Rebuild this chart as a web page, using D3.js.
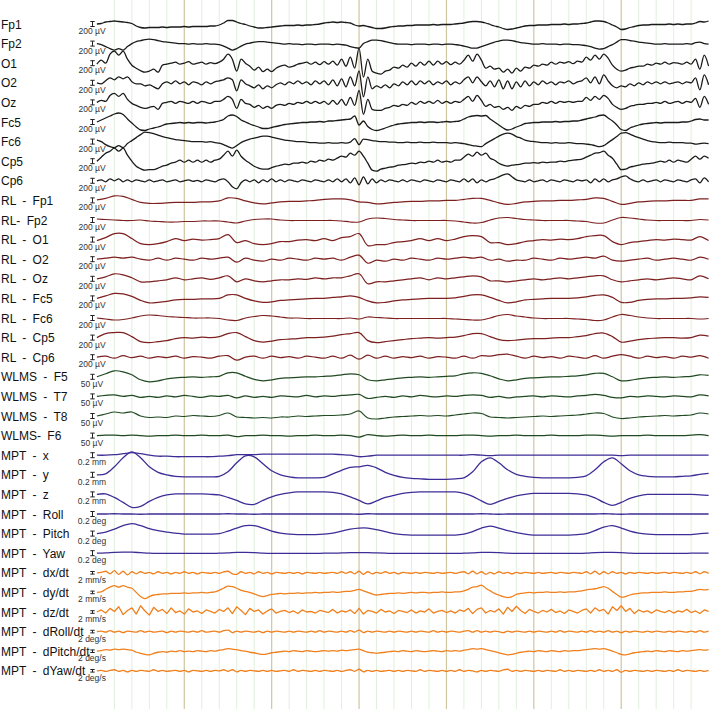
<!DOCTYPE html>
<html><head><meta charset="utf-8">
<script src="https://cdn.jsdelivr.net/npm/d3@7"></script>
<style>body{margin:0;background:#fff}svg{display:block}</style>
</head><body>
<svg id="chart" width="709" height="709"></svg>
<script>
// ---------- channel names & scale labels ----------
const channelNames = ["Fp1","Fp2","O1","O2","Oz","Fc5","Fc6","Cp5","Cp6",
  "RL - Fp1","RL- Fp2","RL - O1","RL - O2","RL - Oz","RL - Fc5","RL - Fc6","RL - Cp5","RL - Cp6",
  "WLMS - F5","WLMS - T7","WLMS - T8","WLMS- F6",
  "MPT - x","MPT - y","MPT - z","MPT - Roll","MPT - Pitch","MPT - Yaw",
  "MPT - dx/dt","MPT - dy/dt","MPT - dz/dt","MPT - dRoll/dt","MPT - dPitch/dt","MPT - dYaw/dt"];
const channelGroups = ["eeg","eeg","eeg","eeg","eeg","eeg","eeg","eeg","eeg",
  "rl","rl","rl","rl","rl","rl","rl","rl","rl",
  "wlms","wlms","wlms","wlms",
  "pos","pos","pos","pos","pos","pos",
  "vel","vel","spiky","vel","vel","vel"];
const scaleBarValues = [200,200,200,200,200,200,200,200,200,
  200,200,200,200,200,200,200,200,200,
  50,50,50,50,
  0.2,0.2,0.2,0.2,0.2,0.2,
  2,2,2,2,2,2];
const scaleBarLabels = ["200 µV","200 µV","200 µV","200 µV","200 µV","200 µV","200 µV","200 µV","200 µV",
  "200 µV","200 µV","200 µV","200 µV","200 µV","200 µV","200 µV","200 µV","200 µV",
  "50 µV","50 µV","50 µV","50 µV",
  "0.2 mm","0.2 mm","0.2 mm","0.2 deg","0.2 deg","0.2 deg",
  "2 mm/s","2 mm/s","2 mm/s","2 deg/s","2 deg/s","2 deg/s"];
const timeTicks = d3.range(1, 35); // grid lines (one per time unit), every 5th is major

// ---------- EEG (µV) ----------
const fp1 = [0,20,80,100,120,100,80,60,20,-80,-140,-160,-140,-140,
-140,-120,-140,-120,-120,-120,-100,-120,-100,-100,-100,
-100,-80,-80,-40,40,140,140,80,20,-20,-80,-120,-160,-160,-140,-120,-100,-80,-60,
-60,-60,-40,-60,-40,
-40,-20,0,40,60,80,60,80,60,40,-40,-80,-60,-100,-140,-180,-180,-160,-120,-100,-80,
-80,-60,-60,-40,-40,-40,-40,-20,-40,-20,-20,
-20,0,20,40,80,100,100,80,40,-20,-80,-120,-180,-220,-200,-160,-120,-80,-60,
-60,-40,-40,-40,-20,-20,-20,0,-20,0,0,
20,40,80,120,120,100,40,-40,-120,-220,-200,-140,-100,-60,
-40,-40,-20,-20,-20,-20,0,-20,0,-20,0,
0,40,100,80,120];
const fp2 = [0,-40,-120,-200,-260,-200,-260,-120,0,80,120,160,180,160,120,80,60,40,20,
0,0,-20,0,-20,-20,0,-20,-20,-40,
-100,-180,-260,-200,-100,-20,20,60,80,80,60,40,20,0,
-20,0,-20,-20,-40,-20,-20,-40,-20,-20,-20,-40,-20,
-40,-60,-120,-160,-180,0,80,140,140,120,80,40,0,
-20,-20,-20,-40,-20,-20,-20,-40,-20,-20,-40,-20,-20,-40,
-60,-100,-140,-180,-180,-120,-60,0,60,100,140,140,120,80,40,20,0,
-20,-20,0,-20,-20,-20,-40,-20,-20,-40,-40,-60,
-80,-120,-180,-220,-200,-120,-40,60,160,160,120,100,60,40,20,0,
-20,-20,0,-20,-20,-20,-20,0,-20,
40,60,0,-20];
const o1 = [-40,120,0,360,480,320,480,160,-80,-200,-300,-360,-320,-240,-360,-80,-40,0,
40,-40,0,60,-40,0,40,-40,20,-20,40,
160,360,160,-320,160,0,-120,-280,-160,-340,-240,-340,-200,-120,-80,-160,-120,-40,0,40,-40,40,-60,60,-40,80,-80,160,-120,240,-200,
600,-560,160,-320,-400,-440,-320,-280,-160,-200,-80,-160,0,-120,40,-80,80,-80,80,-40,60,-60,40,-40,
120,320,80,360,120,-200,-120,-240,-200,-360,-240,-400,-200,-320,-160,-200,-80,-120,-40,-80,40,-40,40,0,60,-20,80,40,
240,120,320,160,360,200,-80,-240,-320,-280,-200,-160,-120,-120,-40,-80,
0,-40,40,-40,20,0,-40,40,-40,160,-240,320,-120];
const o2 = [0,-40,80,200,120,240,160,240,40,-40,-40,-120,-80,-160,-240,-40,40,
-40,80,-40,40,-80,40,0,-80,40,-40,40,80,
120,200,120,-320,120,-40,-120,-200,-80,-240,-120,-200,-80,0,-80,40,-40,80,-40,40,-80,80,-40,80,-80,120,-120,160,-160,240,-120,
480,-560,240,-240,-120,-200,-80,-200,-40,-120,40,-80,80,-80,80,-40,80,-80,40,-40,80,-80,40,-40,
120,240,0,240,40,-120,80,-160,120,-240,80,-240,40,-160,80,-120,40,-80,80,-40,40,-80,40,0,80,-40,40,80,
200,0,240,-40,320,80,-120,-200,-120,-160,-40,-120,0,-80,40,-40,40,-40,40,-40,0,40,-40,40,0,200,-280,320,-80];
const oz = [0,80,40,280,360,240,360,120,-40,-120,-200,-240,-200,-160,-280,-40,0,40,
-40,40,0,-40,40,-40,40,0,-40,40,40,
120,240,120,-240,120,-40,-80,-200,-120,-240,-160,-240,-120,-80,-120,-40,-80,0,-40,40,-40,40,-40,40,-80,80,-80,120,-120,200,-120,
480,-480,120,-280,-320,-320,-240,-200,-120,-160,-80,-120,0,-80,40,-40,40,-40,80,-40,40,-40,40,0,
120,240,40,280,80,-160,-80,-200,-160,-280,-200,-320,-160,-240,-120,-160,-80,-80,0,-40,40,-40,40,0,40,0,40,40,
200,80,240,120,280,160,-80,-200,-280,-240,-160,-120,-80,-80,-40,-40,0,-40,40,-40,0,40,-40,40,0,160,-200,240,-80];
const fc5 = [0,80,160,240,320,360,300,120,-40,-200,-320,-340,-280,-240,-200,-140,-80,-60,
-40,-20,-40,-20,-40,-20,-20,-40,-20,0,40,
100,240,280,220,80,0,-80,-140,-200,-260,-260,-220,-180,-140,-100,-80,-60,-40,-20,
-20,0,0,20,0,40,40,60,
80,100,120,240,-120,40,-180,-300,-340,-300,-240,-180,-120,-80,-60,
-40,-20,-20,0,-20,0,0,-20,0,20,0,20,
40,120,200,240,260,240,260,120,0,-120,-240,-320,-280,-200,-140,-60,-40,
-20,-20,0,0,0,20,0,20,20,40,40,80,
120,160,200,260,280,160,40,-120,-300,-340,-240,-180,-120,-80,-60,
-40,-20,-40,-20,-20,-20,-20,0,0,
40,100,120,80,80];
const fc6 = [60,0,-120,-200,-240,-160,-240,-80,40,160,280,380,360,320,260,200,160,120,80,60,40,20,0,0,0,-20,0,-40,-60,
-120,-200,-260,-160,-40,40,100,140,180,220,
220,180,140,100,60,40,20,0,0,-20,
-40,-40,-60,-60,-40,-60,-60,-40,-60,-20,
120,-120,100,80,40,20,0,0,-20,-20,
-40,-40,-20,-40,-40,-20,-40,-40,-20,-40,
-40,-40,-60,-40,-60,-80,-120,-160,-180,-200,
-80,20,120,220,300,340,300,200,140,60,
20,0,-20,-40,-40,-60,-40,-60,-60,-40,
-60,-80,-80,-100,-120,-160,-200,-160,-40,80,
200,340,360,300,220,160,100,40,0,-20,
-40,-40,-20,-40,-40,-40,-60,-60,-100,-80,
-60,-80];
const cp5 = [0,160,320,400,520,400,520,240,0,-200,-300,-360,-340,-340,-280,-200,-160,-80,-40,40,-40,40,-40,40,-40,40,-40,40,80,
240,400,200,440,200,40,-80,-200,-280,-320,
-320,-260,-200,-160,-120,-140,-80,-80,-40,-80,
0,-40,40,0,80,40,120,200,160,320,
240,400,200,-80,-360,-400,-320,-280,-240,-220,
-160,-140,-120,-80,-100,-40,-60,0,-40,40,
-40,0,-40,40,40,160,280,200,360,240,
320,120,40,-80,-160,-200,-160,-140,-120,-80,
-80,-60,-80,-40,-60,-40,-40,0,-20,20,
40,60,80,160,240,320,340,400,240,120,
-120,-340,-320,-240,-200,-160,-120,-100,-80,-40,
0,-40,40,-40,40,0,-40,80,200,80,
200,120];
const cp6 = [0,40,-40,80,0,80,-40,40,-40,40,0,-40,40,-40,0,40,-40,0,40,-40,0,40,-20,20,-40,40,0,-40,40,
80,-40,-240,-320,-80,40,-40,40,-80,40,
-40,80,-40,40,-40,40,0,-40,40,0,
-40,40,0,-40,40,-40,80,-40,80,-80,
120,-160,160,-120,80,-80,40,-40,40,0,
-40,40,-40,40,0,-40,40,0,-40,40,
0,-40,40,0,-40,80,-40,80,-80,40,
-40,40,80,160,240,280,160,40,0,-40,
40,-40,0,40,-40,40,0,-40,40,0,
-40,40,0,40,-80,80,-40,80,-40,40,
80,160,200,80,0,-40,40,-40,0,40,
-40,40,0,-40,40,0,-40,40,80,-80,
120,-40];

// ---------- RL referenced EEG (µV) ----------
const rlFp1 = [20,80,180,160,40,-80,-120,-120,-100,-80,-80,-80,-60,-60,-20,100,80,-20,-100,-140,-100,-60,-40,-40,-20,0,40,60,60,20,-60,-80,-140,-120,-80,-60,-40,-40,-20,-20,0,0,40,80,80,0,-100,-160,-120,-60,-40,-20,-20,0,0,20,40,100,80,-40,-160,-120,-60,-40,-20,-20,0,0,0,60,60];
const rlFp2 = [40,20,0,-20,-20,0,-40,-60,-80,-80,-60,-60,-40,-40,-40,-80,-120,-40,20,40,40,0,-20,-20,-20,-20,-20,-20,-40,-80,-80,40,80,60,20,0,-20,-20,-20,-20,-20,-40,-80,-120,-100,0,80,100,60,20,0,-20,-20,-20,-20,-40,-60,-120,-120,0,100,80,40,0,-20,-20,-20,-20,-20,20,0];
const rlO1 = [-40,80,240,240,40,-160,-200,-160,-80,40,-40,20,-20,0,40,200,-120,-40,-160,-200,-160,-80,-80,-20,0,-40,40,-40,80,120,240,-240,-200,-200,-120,-80,-40,40,-40,40,-40,20,120,160,120,-120,-120,-200,-160,-80,-40,0,-20,20,0,40,120,160,160,-80,-200,-120,-80,-40,0,-20,20,0,-20,120,-40];
const rlO2 = [0,40,80,40,80,0,-40,40,-40,40,0,-40,40,0,40,80,-120,40,-40,-80,0,-40,40,0,-40,40,0,40,-40,80,160,-160,-40,-80,0,-40,40,0,-40,40,0,40,80,40,80,-40,0,-80,-40,-40,40,0,-40,40,0,40,80,40,120,-40,-80,-40,0,40,-40,0,40,0,-40,80,0];
const rlOz = [0,80,200,160,40,-120,-120,-80,-40,40,-40,0,40,-20,40,120,-120,0,-80,-120,-80,-40,-40,0,-20,40,0,40,40,120,200,-200,-120,-120,-80,-40,0,40,-40,40,0,40,80,120,80,-80,-80,-120,-80,-40,0,-40,0,40,0,40,80,120,120,-40,-120,-80,-40,0,-40,0,40,0,-40,120,0];
const rlFc5 = [0,100,200,180,80,-80,-180,-160,-120,-60,-40,-40,-20,-20,0,140,140,0,-100,-160,-140,-80,-60,-40,-20,0,0,40,60,100,40,-100,-180,-160,-100,-60,-40,-20,0,0,0,20,80,140,140,40,-80,-180,-140,-60,-40,-20,0,0,0,20,60,120,140,40,-160,-160,-80,-40,-20,-20,0,0,20,60,40];
const rlFc6 = [0,-40,-80,-60,0,80,120,100,60,40,20,0,0,0,-20,-80,-100,0,60,100,80,40,0,0,-20,-20,-20,-20,-20,0,-40,40,20,0,-20,-20,-20,-20,-20,-20,-20,-40,-60,-80,-80,0,100,140,80,40,0,-20,-20,-20,-20,-40,-60,-100,-80,40,140,100,40,0,-20,-20,-20,-20,-20,-40,-20];
const rlCp5 = [0,160,200,200,40,-160,-200,-160,-120,-40,0,-20,20,0,40,160,200,40,-120,-180,-140,-80,-60,-40,0,0,20,60,120,160,200,-120,-200,-160,-120,-80,-40,-20,0,-20,0,20,80,160,160,40,-80,-120,-100,-60,-40,-40,-20,0,0,40,80,160,180,40,-180,-140,-80,-40,-20,0,0,-20,0,100,60];
const rlCp6 = [0,40,-40,60,-20,40,-40,20,-20,40,-40,20,0,-40,40,60,-120,0,40,-40,40,-20,20,-40,40,0,-40,40,-40,80,-80,80,-40,40,-40,20,-20,40,-40,20,0,-40,40,-40,60,40,100,120,40,-40,40,-20,20,-40,40,0,-40,60,-40,40,100,40,-40,40,-20,20,-40,40,0,60,-40];

// ---------- WLMS (µV) ----------
const wlmsF5 = [0,30,60,50,20,-30,-50,-40,-20,-10,-5,0,-5,0,5,40,40,5,-25,-40,-30,-15,-10,-5,0,0,5,10,20,30,20,-30,-40,-30,-20,-10,-5,0,-5,0,5,10,30,40,35,10,-20,-40,-30,-15,-10,-5,0,0,5,10,20,35,35,0,-40,-35,-20,-10,-5,0,-5,0,5,20,15];
const wlmsT7 = [0,10,15,0,10,-10,0,-10,5,-5,10,0,-10,5,0,10,-15,5,-10,0,-10,5,0,-5,10,-5,5,0,10,15,20,-20,-10,0,-10,5,-5,10,0,-5,5,0,10,15,10,-10,0,-15,-5,0,5,-5,5,0,-5,5,10,20,10,-10,-15,0,-5,5,0,-5,5,0,-5,15,5];
const wlmsT8 = [0,20,40,30,40,0,-15,-10,-15,0,-5,5,0,-5,5,30,-10,-15,-20,-15,-20,-10,-10,0,-5,0,5,5,10,20,50,-20,-30,-20,-10,-5,0,5,0,5,0,10,20,30,25,-10,-15,-20,-15,-10,-5,0,-5,0,5,10,20,30,25,-10,-25,-20,-10,-5,0,5,0,5,10,30,20];
const wlmsF6 = [0,5,5,0,5,0,-5,0,0,5,0,0,5,0,0,5,-10,0,0,5,0,0,-5,0,0,5,0,0,5,0,-15,10,0,-5,0,5,0,0,5,0,0,0,5,5,0,-5,0,0,5,0,0,0,5,0,0,0,5,5,0,-5,0,0,0,5,0,0,0,0,5,10,0];

// ---------- MPT position (mm / deg) ----------
const mptX = [0,0,0.02,0.06,0.1,0.06,0,-0.04,-0.04,-0.06,-0.06,-0.06,-0.06,-0.06,-0.04,-0.02,0.02,0.02,0.02,0.04,0.04,0.04,0.04,0.04,0.04,0.04,0.04,0.04,0.02,0,-0.06,-0.04,0,0,0,0,0,0,0,0,0,0,0,0.02,0,-0.02,0,0,0,0,0,0,0,0,0,0,0,0,0,0,-0.02,0,0,0,0,0,0,0,0,0,0];
const mptY = [0,0.04,0.32,0.68,0.92,0.68,0.32,0.1,0,-0.06,-0.08,-0.08,-0.08,-0.08,-0.06,0.12,0.48,0.76,0.72,0.44,0.16,0,-0.08,-0.12,-0.12,-0.12,-0.1,0.04,0.18,0.3,0.32,0.38,0.28,0.1,-0.02,-0.1,-0.14,-0.16,-0.18,-0.18,-0.18,-0.16,-0.12,0.12,0.52,0.68,0.48,0.2,0.02,-0.06,-0.1,-0.12,-0.12,-0.12,-0.12,-0.1,-0.04,0.2,0.52,0.68,0.44,0.16,0,-0.06,-0.08,-0.08,-0.08,-0.06,-0.04,0.02,0.06];
const mptZ = [0,0.02,-0.12,-0.32,-0.52,-0.48,-0.28,-0.12,-0.02,0.02,0.02,0.02,0.02,0,-0.02,-0.12,-0.24,-0.38,-0.4,-0.24,-0.1,0,0.06,0.1,0.1,0.1,0.1,0.08,0.02,-0.1,-0.24,-0.38,-0.26,-0.12,-0.04,0.04,0.08,0.1,0.1,0.1,0.1,0.1,0.04,-0.08,-0.26,-0.4,-0.28,-0.16,-0.06,0,0.04,0.04,0.04,0.04,0.04,0.02,-0.02,-0.14,-0.32,-0.44,-0.32,-0.16,-0.06,0,0,0,0,0,0,-0.02,-0.04];
const mptRoll = [0,0,0.01,0,0,-0.01,0,0,0,0,0,0,0,0,0,0.01,0,0,-0.01,0,0,0,0,0,0,0,0,0,0,0,-0.01,0.01,0,0,0,0,0,0,0,0,0,0,0,0,0.01,0,-0.01,0,0,0,0,0,0,0,0,0,0,0,0.01,0,-0.01,0,0,0,0,0,0,0,0,0,0];
const mptPitch = [0,0.06,0.18,0.32,0.4,0.32,0.2,0.12,0.06,0.02,-0.02,-0.02,-0.02,-0.02,0,0.1,0.22,0.32,0.32,0.22,0.1,0.02,-0.02,-0.04,-0.04,-0.04,-0.02,0.02,0.1,0.18,0.22,0.22,0.16,0.08,0,-0.04,-0.06,-0.06,-0.06,-0.06,-0.06,-0.06,-0.02,0.08,0.22,0.3,0.22,0.12,0.04,-0.02,-0.06,-0.06,-0.06,-0.06,-0.06,-0.04,0,0.12,0.26,0.32,0.22,0.1,0.02,-0.02,-0.04,-0.04,-0.04,-0.04,-0.04,0,0.02];
const mptYaw = [0,0.01,0.03,0.04,0.04,0.02,0,-0.01,-0.01,-0.01,-0.01,-0.01,-0.01,-0.01,0,0.01,0.03,0.03,0.02,0,-0.01,-0.01,-0.01,-0.01,-0.01,-0.01,0,0,0.01,0.02,0.02,0.02,0.01,0,-0.01,-0.01,-0.01,-0.01,-0.01,-0.01,-0.01,-0.01,0,0.01,0.03,0.03,0.02,0,-0.01,-0.01,-0.01,-0.01,-0.01,-0.01,-0.01,-0.01,0,0.02,0.03,0.03,0.02,0,-0.01,-0.01,-0.01,-0.01,-0.01,-0.01,0,0,0];

// ---------- MPT velocity (mm/s / deg/s) ----------
const mptDx = [0,0.4,1.2,-0.8,1.6,-1.2,1.2,-1.6,0.8,-0.8,0.8,-0.4,0.4,-0.8,0.8,-0.4,0.4,-0.8,
0.4,-0.4,0.8,-0.4,0.4,-0.8,0.4,0,-0.4,0.4,-0.4,
0.8,1.2,-0.8,-1.2,0.8,-0.4,0.4,-0.8,0.8,-0.4,0.4,-0.8,0.4,0,-0.4,0.4,-0.4,0.4,-0.8,0.4,0,-0.4,0.4,-0.4,0,0.4,-0.4,0.8,-0.4,0.8,-0.8,
1.2,-1.2,0.8,-0.8,0.4,-0.4,0.8,-0.4,0.4,-0.8,0.4,0,-0.4,0.4,-0.4,0.4,0,-0.4,0.4,-0.4,0,0.4,-0.4,0.4,
0.8,-0.8,1.2,-0.8,0.8,-1.2,0.4,-0.8,0.8,-0.4,0.4,-0.8,0.4,-0.4,0.4,0,-0.4,0.4,-0.4,0,0.4,-0.4,0.4,0,-0.4,0.4,0,-0.4,
0.8,-0.8,1.2,-1.2,0.8,-0.8,0.8,-0.4,0.4,-0.8,0.4,-0.4,0.4,0,-0.4,0.4,-0.4,0,0.4,-0.4,0.4,0,-0.4,0.4,-0.4,0.8,-0.8,0.8,-0.4];
const mptDy = [0,0.4,2.4,4,5.2,4,5.2,4,3.2,0,-3.2,-4.8,-3.2,-2,-1.6,-1.2,-1.2,-0.8,-0.8,-0.8,-0.4,-0.8,-0.4,-0.4,0,-0.4,0,0.4,1.6,3.2,4.8,4.4,3.2,1.6,0.8,0,-1.2,-2.4,-3.2,-2.4,-1.6,-1.2,-0.8,-1.2,-0.8,-0.8,-0.4,-0.8,-0.4,-0.4,0,-0.4,0,0,0.4,0,0.4,0.8,0.8,1.6,2.4,1.2,0,-1.2,-2,-1.6,-1.2,-0.8,-0.8,-0.4,-0.8,-0.4,0,-0.4,0,0,-0.4,0,0,0.4,0,0,0.4,0.4,1.2,2.4,4,4.4,5.6,3.2,1.2,-0.8,-2,-3.2,-4,-3.2,-1.6,-0.8,-0.4,0,-0.4,0,0,0.4,0,0,0.4,0,0.4,0.4,0.8,1.2,2,2.4,2.8,3.6,4.4,3.2,0.8,-1.6,-3.6,-3.2,-2,-1.2,-0.8,-0.4,-0.4,0,0,0,0.4,0,0,0.4,0.4,0.8,0.8,1.6,2.4,2,2.4];
const mptDz = [0,1.6,-0.8,2.8,0.4,4,-2,1.2,3.2,-1.6,4.8,0.8,-2.4,3.6,0.4,2,-1.2,3.2,-0.4,0.8,-1.6,2.4,0,0.8,-1.2,1.6,0.4,-0.8,2,
0.4,3.2,-1.2,4,1.2,-2,2.8,0.4,1.6,-1.6,0.8,2.4,-0.8,0.4,1.2,-0.4,0.8,-1.2,1.6,0,0.4,-0.8,1.2,0.4,-0.4,2,-0.8,0.8,0,1.6,-1.2,
2.8,-1.6,1.2,0.4,-0.8,2,0,0.8,-1.2,1.2,0.4,-0.4,1.6,-0.8,0.8,0,2.4,-0.8,0.4,1.2,-0.4,0.8,-0.8,1.6,
0.4,2.8,-1.2,2,3.2,-0.8,1.2,0,2.4,-1.6,3.6,0.4,4.4,1.2,-1.2,2,0.4,-0.8,1.2,0,2,-0.4,0.8,-1.2,1.6,0.4,-0.8,1.2,
2.4,-0.8,3.2,0.8,2,-1.6,4,1.2,4.8,0.4,2.8,-1.2,1.6,0,0.8,-0.8,1.6,0.4,-0.4,1.2,-0.8,0.8,0,2,-0.4,0.8,-1.2,1.6,0.4];
const mptDRoll = [0,0.4,-0.4,0.8,-0.4,0.4,-0.8,0.4,0,-0.4,0.8,-0.4,0.4,-0.4,0,0.4,-0.8,0.4,-0.4,0.4,0,-0.4,0.4,-0.4,0.8,-0.4,0,0.4,-0.4,0.8,1.2,-0.8,0.4,-0.4,0.4,0,-0.4,0.4,-0.8,0.4,-0.4,0.4,0,-0.4,0.4,-0.4,0.4,0,-0.4,0.4,-0.4,0.8,-0.4,0.4,0,-0.4,0.4,-0.4,0.8,-0.4,1.2,-0.8,0.4,-0.4,0.4,0,-0.4,0.4,-0.4,0.4,0,-0.4,0.4,-0.4,0.4,0,-0.4,0.8,-0.4,0.4,-0.4,0.4,0,-0.4,0.4,0.8,-0.4,0.8,-0.4,0.4,-0.4,0.4,0,-0.8,0.4,-0.4,0.4,0,-0.4,0.4,-0.4,0.4,0,-0.4,0.4,-0.4,0.8,-0.4,0.4,0,-0.4,0.4,-0.4,0.8,-0.4,0.4,-0.4,0.8,-0.4,0.4,-0.8,0.4,-0.4,0.4,0,-0.4,0.4,-0.4,0.4,0,-0.4,0.4,-0.4,0.4,0,-0.4,0.4,-0.4,0.8,-0.4,0.4];
const mptDPitch = [0,0.4,1.2,0.8,1.6,1.2,1.6,1.2,0.8,-0.8,-1.6,-2.4,-2.8,-1.6,-0.8,-0.4,-0.8,0,-0.4,0.4,-0.4,0,-0.4,0.4,0,-0.4,0.4,0,0.8,1.2,2,1.6,1.2,0.4,0,-0.8,-1.2,-2,-2.4,-2,-1.2,-0.8,-0.4,0,-0.4,0.4,0,-0.4,0.4,0,-0.4,0,0.4,0,0.4,0,0.8,0.4,0.8,1.2,1.6,0.4,-0.8,-1.2,-1.6,-1.2,-0.8,-0.4,0,-0.4,0.4,0,-0.4,0.4,0,-0.4,0,0.4,0,-0.4,0.4,0,0.4,0,0.8,1.2,2,1.6,2,1.2,0.4,-0.4,-1.2,-2,-2.8,-2.4,-1.6,-0.8,-0.4,0,-0.4,0.4,0,-0.4,0.4,0,-0.4,0.4,0,0.4,0.4,0.8,1.2,1.6,2,1.6,2,1.2,0,-1.2,-2.4,-2.8,-2,-1.2,-0.8,-0.4,0,-0.4,0.4,0,-0.4,0.4,0,-0.4,0.4,0,0.4,0.8,1.2,0.8,1.2];
const mptDYaw = [0,0.4,-0.4,0.4,0.8,-0.4,0.4,-0.8,0.4,-0.4,0.4,0,-0.4,0.8,-0.4,0.4,-0.4,0,0.4,-0.4,0.4,-0.8,0.4,0,-0.4,0.4,-0.4,0.4,0,0.8,-0.4,0.8,-0.8,0.4,-0.4,0.4,0,-0.4,0.4,-0.4,0.4,-0.4,0,0.4,-0.4,0.8,-0.4,0.4,0,-0.4,0.4,-0.4,0.4,0,-0.4,0.4,-0.4,0.4,0.8,-0.4,1.2,-0.8,0.4,-0.4,0.4,-0.4,0,0.4,-0.4,0.4,-0.4,0.4,0,-0.4,0.8,-0.4,0.4,0,-0.4,0.4,-0.4,0.4,-0.4,0.8,-0.4,0.4,0,-0.8,0.4,-0.4,0.4,0,-0.4,0.8,1.2,-0.4,0.4,-0.4,0.4,0,-0.4,0.4,-0.4,0.4,0,-0.4,0.8,-0.4,0.4,-0.4,0.4,0,-0.4,0.4,-0.4,0.8,-0.4,0.4,-0.4,0.8,-1.2,0.4,-0.4,0.4,0,-0.4,0.4,-0.4,0.4,0,-0.4,0.4,-0.4,0.8,-0.4,0.4,0,-0.4,0.4,-0.4,0.4];

const channelValues = [fp1,fp2,o1,o2,oz,fc5,fc6,cp5,cp6,
  rlFp1,rlFp2,rlO1,rlO2,rlOz,rlFc5,rlFc6,rlCp5,rlCp6,
  wlmsF5,wlmsT7,wlmsT8,wlmsF6,
  mptX,mptY,mptZ,mptRoll,mptPitch,mptYaw,
  mptDx,mptDy,mptDz,mptDRoll,mptDPitch,mptDYaw];

// ---------- drawing ----------
const W = 709, H = 709;
const svg = d3.select("#chart");

const groupStyle = {
  eeg:   {color:"#1a1a1a", amp:d3.scaleLinear().domain([0,200]).range([0,5]),  curve:d3.curveMonotoneX, width:1.3},
  rl:    {color:"#7d2020", amp:d3.scaleLinear().domain([0,200]).range([0,5]),  curve:d3.curveCatmullRom, width:1.2},
  wlms:  {color:"#214a22", amp:d3.scaleLinear().domain([0,50]).range([0,5]),   curve:d3.curveCatmullRom, width:1.2},
  pos:   {color:"#3f2c96", amp:d3.scaleLinear().domain([0,0.2]).range([0,5]),  curve:d3.curveCatmullRom, width:1.3},
  vel:   {color:"#f0801e", amp:d3.scaleLinear().domain([0,2]).range([0,2.6]),  curve:d3.curveMonotoneX, width:1.3},
  spiky: {color:"#f0801e", amp:d3.scaleLinear().domain([0,2]).range([0,2.6]),  curve:d3.curveLinear, width:1.3}
};

const x = d3.scaleLinear().domain([0,35]).range([96.9, 708.6]);
const y = d3.scalePoint().domain(channelNames).range([24, 670.8]);

// grid
svg.append("g").selectAll("line").data(timeTicks).join("line")
  .attr("x1", d => x(d)).attr("x2", d => x(d))
  .attr("y1", 0).attr("y2", H)
  .attr("stroke", d => d % 5 === 0 ? "#cdc6a0" : "#dff0dc")
  .attr("stroke-width", d => d % 5 === 0 ? 1.2 : 1);

const channels = channelNames.map((name,i) => ({
  name, group: channelGroups[i], values: channelValues[i],
  bar: scaleBarValues[i], barLabel: scaleBarLabels[i]
}));

const rows = svg.append("g").selectAll("g").data(channels).join("g");

rows.append("text")
  .attr("x", 1).attr("y", d => y(d.name) + 4.5)
  .attr("font-family", "Liberation Sans, Arial, sans-serif")
  .attr("font-size", 12).attr("word-spacing", 3)
  .attr("fill", "#111")
  .text(d => d.name);

rows.append("path")
  .attr("fill", "none").attr("stroke", "#222").attr("stroke-width", 1)
  .attr("d", d => {
    const h = groupStyle[d.group].amp(d.bar) / 2, cy = y(d.name), cx = 92.5;
    return `M${cx-2.2},${cy-h}H${cx+2.2}M${cx},${cy-h}V${cy+h}M${cx-2.2},${cy+h}H${cx+2.2}`;
  });

rows.append("text")
  .attr("x", 92).attr("y", d => y(d.name) + 10)
  .attr("text-anchor", "middle")
  .attr("font-family", "Liberation Sans, Arial, sans-serif")
  .attr("font-size", 8.5).attr("fill", "#333")
  .text(d => d.barLabel);

rows.append("path")
  .attr("fill", "none")
  .attr("stroke", d => groupStyle[d.group].color)
  .attr("stroke-width", d => groupStyle[d.group].width)
  .attr("stroke-linejoin", "round")
  .attr("d", d => {
    const g = groupStyle[d.group], n = d.values.length, cy = y(d.name);
    return d3.line()
      .x((v,i) => x(i * 35 / (n - 1)))
      .y(v => cy - g.amp(v))
      .curve(g.curve)(d.values);
  });
</script>
</body></html>
